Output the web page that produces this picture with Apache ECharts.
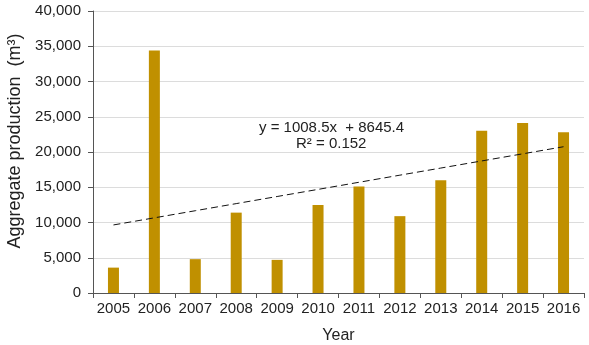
<!DOCTYPE html>
<html><head><meta charset="utf-8">
<script src="https://cdn.jsdelivr.net/npm/echarts@6/dist/echarts.min.js"></script>
<style>html,body{margin:0;padding:0;background:#fff}#c{width:589px;height:345px}</style>
</head><body><div id="c"></div>
<script>
const years = ['2005','2006','2007','2008','2009','2010','2011','2012','2013','2014','2015','2016'];
const production = [3600,34400,4800,11400,4700,12500,15100,10900,16000,23000,24100,22800];
const yTicks = [0,5000,10000,15000,20000,25000,30000,35000,40000];
const trendSlope = 1008.5, trendIntercept = 8645.4, rSquared = 0.152;
const trend = years.map((y,i)=> trendSlope*(i+1)+trendIntercept);
const font = 'Liberation Sans, Arial, sans-serif';
const chart = echarts.init(document.getElementById('c'));
chart.setOption({
  animation:false,
  grid:{left:93,right:5,top:11,bottom:52,containLabel:false,outerBoundsMode:'none'},
  xAxis:{type:'category',data:years,boundaryGap:true,
    name:'Year',nameLocation:'middle',nameGap:35,
    nameTextStyle:{fontFamily:font,fontSize:16,color:'#222'},
    axisLine:{lineStyle:{color:'#555',width:1}},
    axisTick:{show:true,length:5,interval:0,lineStyle:{color:'#555'}},
    axisLabel:{fontFamily:font,fontSize:15,color:'#222',margin:8,interval:0,hideOverlap:false}},
  yAxis:{type:'value',min:0,max:40000,interval:5000,
    name:'Aggregate production  (m³)',nameLocation:'middle',nameGap:66,
    nameTextStyle:{fontFamily:font,fontSize:18,color:'#222',padding:[0,0,0,22]},
    axisLine:{show:true,lineStyle:{color:'#555',width:1}},
    axisTick:{show:true,length:5,inside:false,lineStyle:{color:'#555'}},
    splitLine:{lineStyle:{color:'#dcdcdc',width:1}},
    axisLabel:{fontFamily:font,fontSize:15,color:'#222',margin:12,
      formatter:v=>v.toLocaleString('en-US')}},
  series:[
    {type:'bar',data:production,barWidth:11,itemStyle:{color:'#C09000'}},
    {type:'line',data:trend,symbol:'none',
      lineStyle:{color:'#111',width:1,type:[7,4]}}
  ],
  graphic:[
    {type:'text',left:259,top:120,style:{text:'y = 1008.5x  + 8645.4',fontFamily:font,fontSize:15,fill:'#222'}},
    {type:'text',left:296,top:136,style:{text:'R² = '+rSquared,fontFamily:font,fontSize:15,fill:'#222'}}
  ]
});
</script></body></html>
